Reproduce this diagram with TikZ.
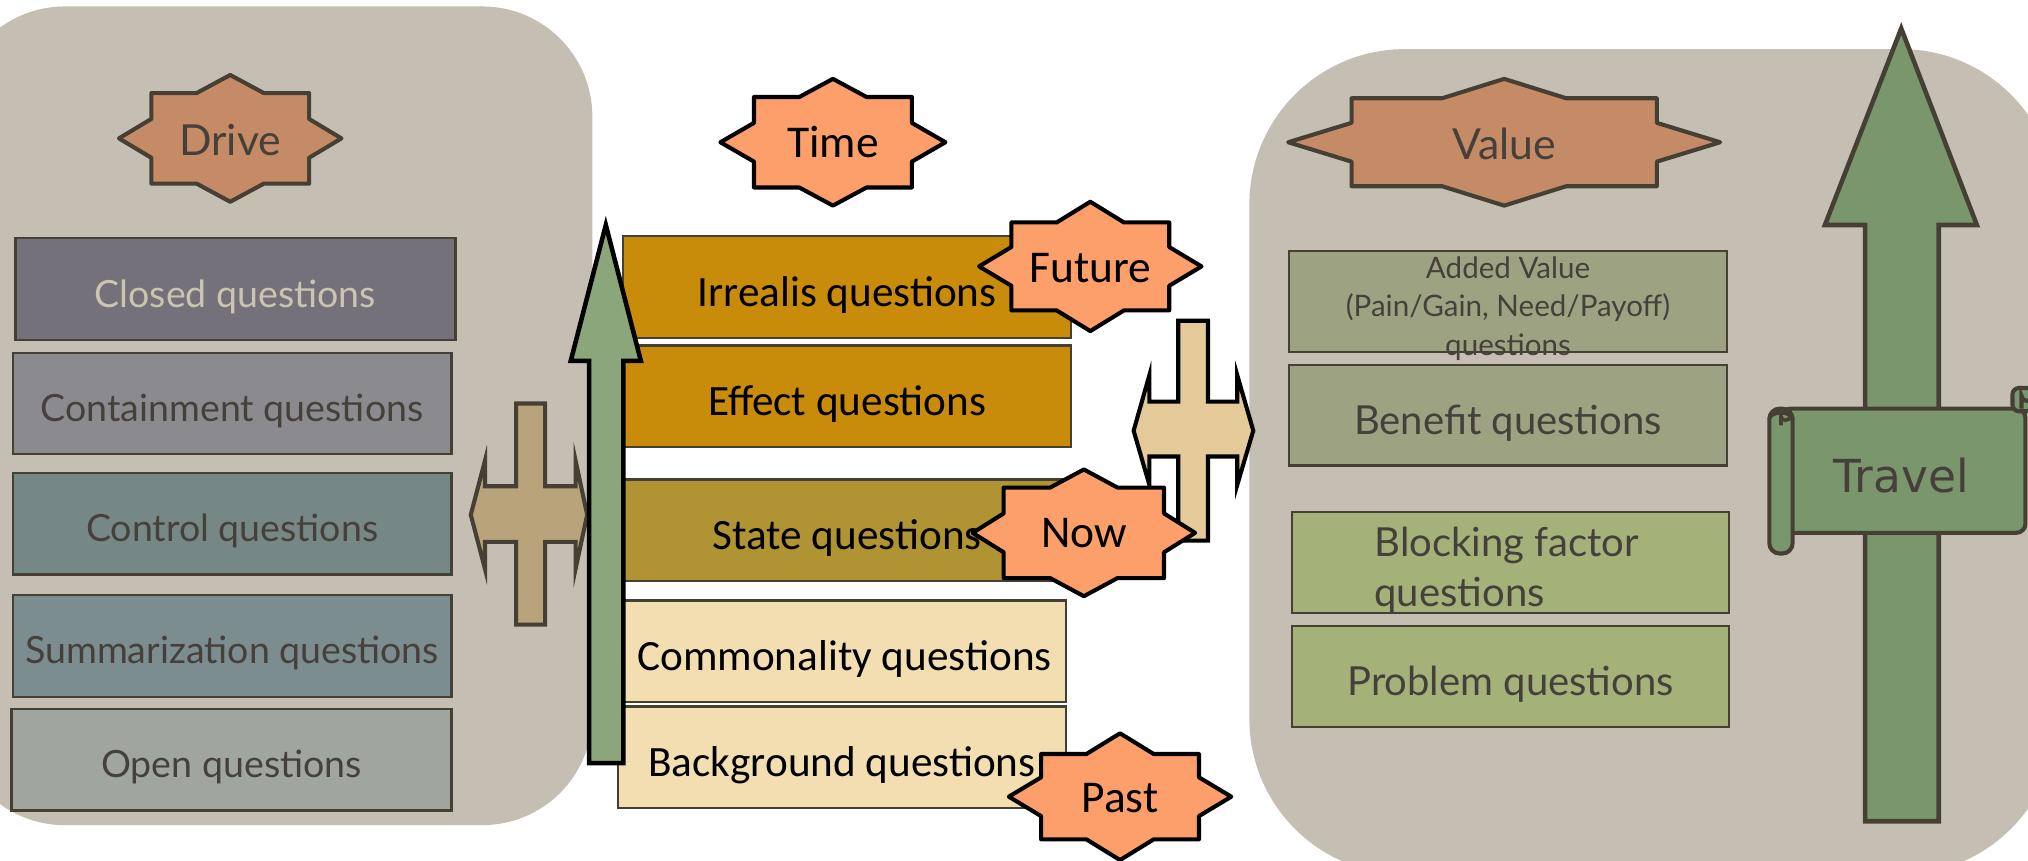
\documentclass[tikz,border=0pt]{standalone}
\usepackage{fontspec}
\setmainfont{Lato}
\newfontfamily\carl{Carlito}
\newfontfamily\dejav{DejaVu Sans}
\definecolor{panelbg}{HTML}{C4BEB3}
\definecolor{darkline}{HTML}{464034}
\definecolor{darktext}{HTML}{45403A}
\definecolor{drivefill}{HTML}{C58B66}
\definecolor{timefill}{HTML}{FD9F6A}
\definecolor{closedfill}{HTML}{74717A}
\definecolor{closedtext}{HTML}{CAC4B0}
\definecolor{containfill}{HTML}{8B8A8E}
\definecolor{controlfill}{HTML}{768886}
\definecolor{summfill}{HTML}{7C8D8F}
\definecolor{openfill}{HTML}{A0A5A0}
\definecolor{irrfill}{HTML}{C88C0A}
\definecolor{statefill}{HTML}{B09434}
\definecolor{commfill}{HTML}{F2DEB0}
\definecolor{addfill}{HTML}{9DA382}
\definecolor{blockfill}{HTML}{A4B27A}
\definecolor{greenarrow}{HTML}{8AA67A}
\definecolor{travelfill}{HTML}{7A966C}
\definecolor{lcross}{HTML}{B8A37B}
\definecolor{rcross}{HTML}{E3CA98}
\newcommand{\octstar}[9]{%
\draw[#1,shift={(#2,#3)}] (0,-#5) -- (#8,-#7) -- (#6,-#7) -- (#6,-#9) -- (#4,0) -- (#6,#9) -- (#6,#7) -- (#8,#7) -- (0,#5) -- (-#8,#7) -- (-#6,#7) -- (-#6,#9) -- (-#4,0) -- (-#6,-#9) -- (-#6,-#7) -- (-#8,-#7) -- cycle;}
\begin{document}
\begin{tikzpicture}[x=0.01cm,y=-0.01cm,
  panel/.style={fill=panelbg},
  qbox/.style={draw=darkline, line width=0.5pt, inner sep=0pt, text=darktext, font=\fontsize{8.25}{10}\selectfont, text height=7.9pt, text depth=0pt},
  lbox/.style={qbox, minimum width=3.39cm, minimum height=0.785cm},
  cbox/.style={draw=darkline, line width=0.5pt, inner sep=0pt, text=black, font=\carl\fontsize{9.5}{11}\selectfont, minimum width=3.46cm, minimum height=0.785cm, text height=8.6pt, text depth=0pt},
  rbox/.style={qbox, minimum width=3.38cm, minimum height=0.78cm, font=\fontsize{8.8}{11}\selectfont, text height=8.6pt, text depth=0pt},
  brownstar/.style={fill=drivefill, draw=darkline, line width=0.9pt, line join=round},
  timestar/.style={fill=timefill, draw=black, line width=0.9pt, line join=round},
  brownlabel/.style={text=darktext, font=\fontsize{9.4}{11}\selectfont},
  timelabel/.style={text=black, font=\carl\fontsize{10}{12}\selectfont},
  bigarrow/.style={line width=1pt, line join=miter},
]
\clip (0,0) rectangle (1568,665);
% panels
\fill[panel, rounded corners=0.85cm] (-35,5) rectangle (458,638);
\fill[panel, rounded corners=1.2cm] (966,38) rectangle (1590,676);

% left column
\octstar{brownstar}{178}{107}{86}{49}{61}{35}{26}{15}
\node[brownlabel] (drive) at (178,108) {Drive};
\node[lbox, fill=closedfill, text=closedtext, minimum width=3.40cm] (closed) at (182,223.5) {Closed questions};
\node[lbox, fill=containfill] (contain) at (179.5,312) {Containment questions};
\node[lbox, fill=controlfill] (control) at (179.5,405) {Control questions};
\node[lbox, fill=summfill] (summ) at (179.5,499.5) {Summarization questions};
\node[lbox, fill=openfill, minimum width=3.40cm] (open) at (179,587.5) {Open questions};

% left cross
\draw[fill=lcross, draw=darkline, line width=0.9pt] (399,312) -- (421.5,312) -- (421.5,376) -- (445,376) -- (445,356) -- (454,398) -- (445,440) -- (445,419) -- (421.5,419) -- (421.5,483) -- (399,483) -- (399,419) -- (375,419) -- (375,440) -- (364,398) -- (375,356) -- (375,376) -- (399,376) -- cycle;

% centre column
\octstar{timestar}{644}{110}{87}{49}{61}{35}{26}{15}
\node[timelabel] (time) at (644,110) {Time};
\node[cbox, fill=irrfill] (irr) at (655,222) {Irrealis questions};
\node[cbox, fill=irrfill] (effect) at (655,306.5) {Effect questions};
\node[cbox, fill=statefill] (state) at (655,410) {State questions};
\node[cbox, fill=commfill, minimum width=3.42cm] (comm) at (653,503.5) {Commonality questions};
\node[cbox, fill=commfill] (back) at (651,585.5) {Background questions};
\draw[bigarrow, fill=greenarrow, draw=black] (468.4,174) -- (495.5,279) -- (482,279) -- (482,590) -- (455.5,590) -- (455.5,279) -- (441.3,279) -- cycle;

% right cross
\draw[fill=rcross, draw=black, line width=0.9pt] (911,248) -- (934,248) -- (934,310.6) -- (956.6,310.6) -- (956.6,290) -- (969,333) -- (956.6,375) -- (956.6,353) -- (934,353) -- (934,418) -- (911,418) -- (911,353) -- (888.7,353) -- (888.7,375) -- (876.5,333) -- (888.7,290) -- (888.7,310.6) -- (911,310.6) -- cycle;

\octstar{timestar}{843}{206}{86}{50}{61}{34}{26}{15}
\node[timelabel] (future) at (843,207) {Future};
\octstar{timestar}{838}{412}{86}{49}{62}{35}{26}{15}
\node[timelabel] (now) at (838,412) {Now};
\octstar{timestar}{866}{616}{86}{49}{61}{33}{26}{15}
\node[timelabel] (past) at (866,617) {Past};

% right column
\octstar{brownstar}{1163}{110}{167}{49}{118}{34}{48}{15}
\node[brownlabel] (value) at (1163,111) {Value};
\node[rbox, fill=addfill] (added) at (1166,233) {};
\node[text=darktext, align=center, inner sep=0pt, font=\fontsize{6.5}{8.4}\selectfont] (addedtext) at (1166,238.5) {Added Value\\(Pain/Gain, Need/Payoff)\\questions};
\node[rbox, fill=addfill] (benefit) at (1166,321) {Benefit questions};
\node[rbox, fill=blockfill] (block) at (1168,435) {};
\node[text=darktext, align=left, anchor=west, inner sep=0pt, font=\fontsize{8.8}{11}\selectfont] (blocktext) at (1062,441) {Blocking factor\\questions};
\node[rbox, fill=blockfill] (problem) at (1168,523) {Problem questions};

% travel arrow
\draw[bigarrow, fill=travelfill, draw=darkline] (1470,22) -- (1528.5,174) -- (1499,174) -- (1499,635) -- (1442,635) -- (1442,174) -- (1411,174) -- cycle;
% scroll banner
\draw[fill=travelfill, draw=darkline, line width=0.9pt, rounded corners=2pt] (1377,316) -- (1566,316) -- (1566,412) -- (1377,412) -- cycle;
\draw[fill=travelfill, draw=darkline, line width=0.9pt, rounded corners=0.05cm] (1556,300) rectangle (1580,318);
\draw[draw=darkline, line width=0.9pt] (1563,316) -- (1563,306) arc[start angle=180, end angle=0, x radius=4, y radius=4];
\draw[fill=travelfill, draw=darkline, line width=0.9pt, rounded corners=0.08cm] (1368,316) rectangle (1386,428);
\draw[draw=darkline, line width=0.9pt] (1368,324) arc[start angle=180, end angle=360, x radius=9, y radius=5];
\draw[draw=darkline, line width=0.8pt] (1377,329) -- (1377,322) arc[start angle=180, end angle=0, x radius=3.5, y radius=3] -- (1384,325);
\node[text=darktext, font=\dejav\fontsize{10}{12}\selectfont] (travel) at (1470,368) {Travel};
\end{tikzpicture}
\end{document}
